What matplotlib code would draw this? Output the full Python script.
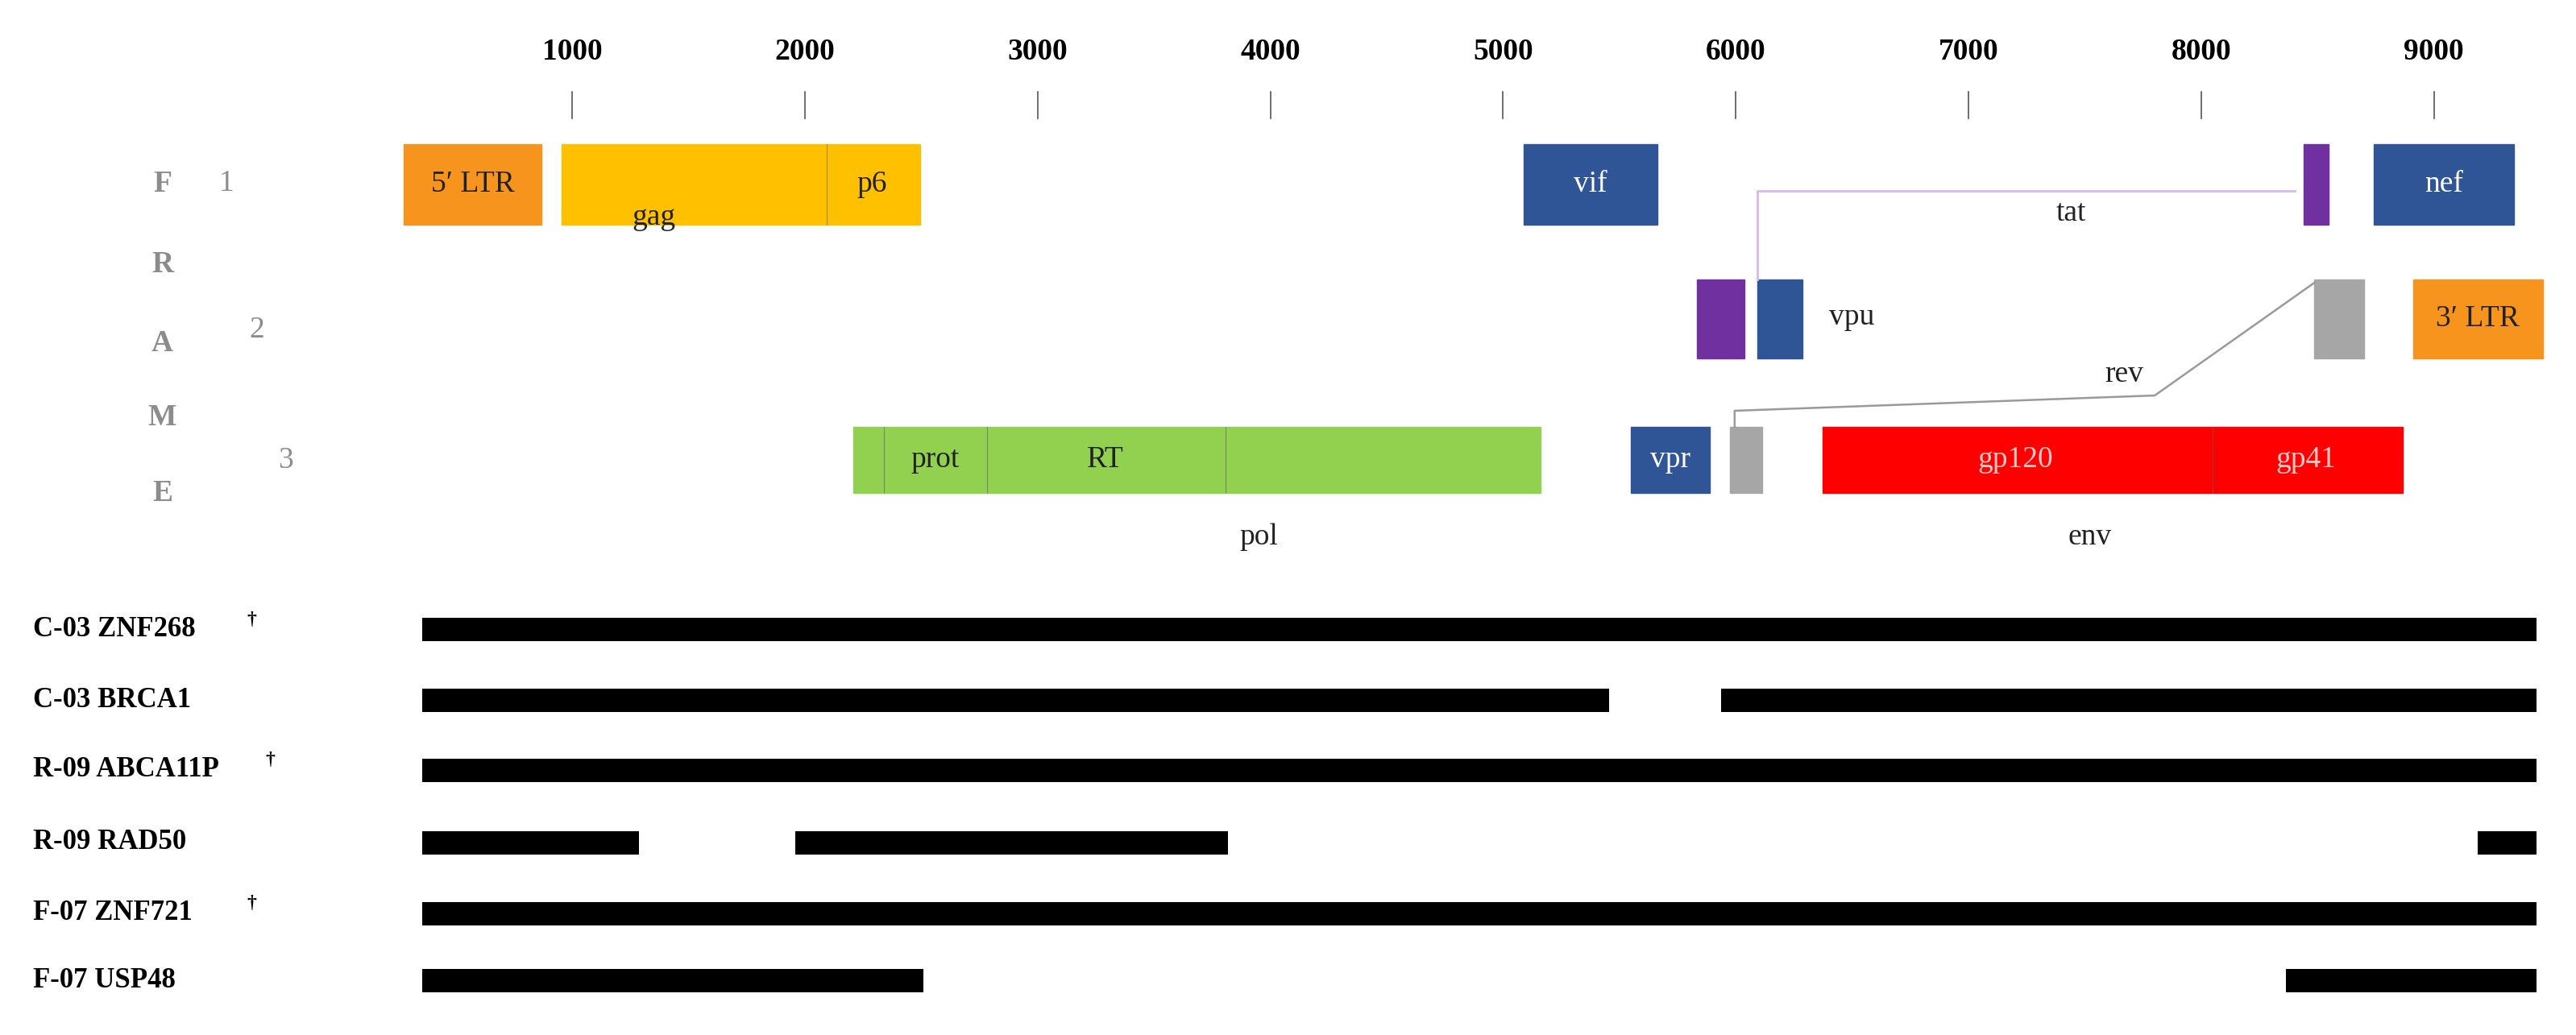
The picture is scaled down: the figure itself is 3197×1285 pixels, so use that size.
import matplotlib.pyplot as plt
from matplotlib.patches import Rectangle

plt.rcParams['font.family'] = ['Liberation Serif', 'DejaVu Serif']

# HIV genome map (positions in bp)
ticks = [1000, 2000, 3000, 4000, 5000, 6000, 7000, 8000, 9000]

# name, start, end, frame, colour, label colour
genes = [
    ("5\u2032 LTR", 275, 870, 1, "#f7941d", "#222222"),
    ("", 956, 2494, 1, "#ffc000", "#222222"),
    ("vif", 5088, 5663, 1, "#2f5597", "white"),
    ("", 8441, 8548, 1, "#7030a0", "white"),
    ("nef", 8740, 9342, 1, "#2f5597", "white"),
    ("", 5833, 6037, 2, "#7030a0", "white"),
    ("", 6093, 6287, 2, "#2f5597", "white"),
    ("", 8486, 8698, 2, "#a6a6a6", "white"),
    ("3\u2032 LTR", 8909, 9467, 2, "#f7941d", "#222222"),
    ("", 2207, 5161, 3, "#92d050", "#222222"),
    ("vpr", 5549, 5889, 3, "#2f5597", "white"),
    ("", 5975, 6114, 3, "#a6a6a6", "white"),
    ("", 6373, 8867, 3, "#ff0000", "white"),
]
dividers = [(2095, 1), (2341, 3), (2782, 3), (3807, 3), (8050, 3)]
sub_labels = [("p6", 2290, 1, "#222222"), ("prot", 2560, 3, "#222222"),
              ("RT", 3290, 3, "#222222"), ("gp120", 7200, 3, "#f4c7c7"),
              ("gp41", 8450, 3, "#f4c7c7")]
gene_names = [("gag", 1350, 270), ("tat", 7440, 265), ("vpu", 6500, 394),
              ("rev", 7670, 465), ("pol", 3950, 667), ("env", 7520, 667)]

samples = ["C-03 ZNF268", "C-03 BRCA1", "R-09 ABCA11P", "R-09 RAD50",
           "F-07 ZNF721", "F-07 USP48"]
dagger = [True, False, True, False, True, False]
segments = [
    [(357, 9440)],
    [(357, 5456), (5937, 9440)],
    [(357, 9440)],
    [(357, 1289), (1960, 3817), (9186, 9440)],
    [(357, 9440)],
    [(357, 2511), (8365, 9440)],
]

frame_y = {1: (179, 279), 2: (347, 445), 3: (530, 612)}
row_y = [781, 869, 956, 1046, 1134, 1217]

fig = plt.figure(figsize=(31.97, 12.85), dpi=100)
ax = fig.add_axes([0, 0, 1, 1])
ax.set_xlim(-1458, 9610)
ax.set_ylim(1285, 0)
ax.axis('off')

# scale
for t in ticks:
    ax.text(t, 65, str(t), ha='center', va='center', fontsize=27, fontweight='bold')
    ax.plot([t, t], [114, 147], color='#555555', lw=1.2)

# genes
for name, s, e, f, c, tc in genes:
    y0, y1 = frame_y[f]
    ax.add_patch(Rectangle((s, y0), e - s, y1 - y0, facecolor=c, edgecolor=c))
    if name:
        ax.text((s + e) / 2, (y0 + y1) / 2, name, ha='center', va='center',
                fontsize=27, color=tc)
for x, f in dividers:
    y0, y1 = frame_y[f]
    ax.plot([x, x], [y0, y1], color='#666666', lw=0.8, alpha=0.6)
for name, x, f, tc in sub_labels:
    y0, y1 = frame_y[f]
    ax.text(x, (y0 + y1) / 2, name, ha='center', va='center', fontsize=27, color=tc)
for name, x, y in gene_names:
    ax.text(x, y, name, ha='center', va='center', fontsize=27, color='#222222')

# splice lines
ax.plot([6093, 6093, 8403], [347, 237, 237], color='#d9b8e8', lw=2)
ax.plot([5995, 5995, 7800, 8486], [530, 510, 491, 351], color='#9a9a9a', lw=1.8)

# FRAME label
for ch, y in zip("FRAME", [228, 328, 426, 518, 612]):
    ax.text(-760, y, ch, ha='center', va='center', fontsize=27, color='#8c8c8c',
            fontweight='bold')
for n, x, y in [("1", -485, 228), ("2", -355, 410), ("3", -230, 572)]:
    ax.text(x, y, n, ha='center', va='center', fontsize=27, color='#8c8c8c')

# integration coverage
for name, d, segs, y in zip(samples, dagger, segments, row_y):
    ax.text(-1315, y, name, ha='left', va='center', fontsize=25, fontweight='bold')
    if d:
        w = len(name)
        ax.text(-1315 + w * 78 + 60, y - 12, "\u2020", ha='left', va='center',
                fontsize=17, fontweight='bold')
    for s, e in segs:
        ax.barh(y, e - s, left=s, height=29, color='black')

fig.savefig("out.png", dpi=100)
